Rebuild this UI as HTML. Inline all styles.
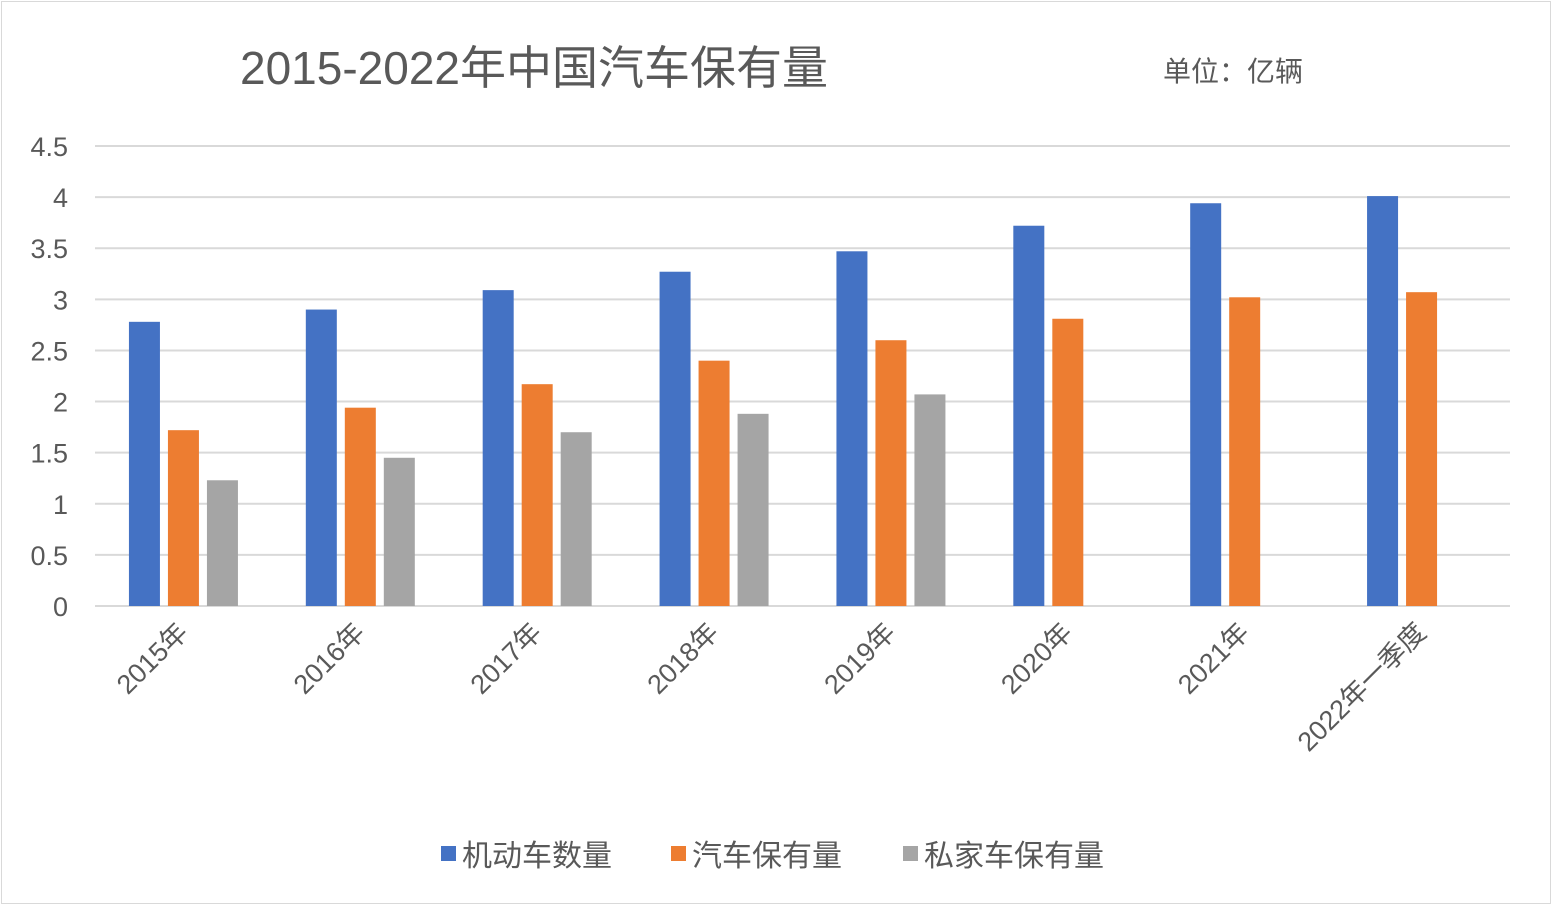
<!DOCTYPE html>
<html><head><meta charset="utf-8">
<style>
html,body{margin:0;padding:0;background:#fff;}
body{width:1554px;height:907px;overflow:hidden;font-family:"Liberation Sans","Noto Sans CJK SC",sans-serif;}
#frame{position:absolute;left:1px;top:1px;width:1550px;height:903px;border:1px solid #d9d9d9;box-sizing:border-box;}
text{font-family:"Liberation Sans","Noto Sans CJK SC",sans-serif;}
</style></head>
<body>
<div id="frame"></div>
<svg id="chart" width="1554" height="907" style="position:absolute;left:0;top:0">
<text x="240" y="84" font-size="46" fill="#595959">2015-2022年中国汽车保有量</text>
<text x="1163" y="81" font-size="28" fill="#595959">单位：亿辆</text>
<g id="grid"></g><g id="bars"></g><g id="xlabels"></g>
<g id="legend">
<rect x="441" y="846" width="15" height="15" fill="#4472c4"/>
<text x="462" y="866" font-size="30" fill="#595959">机动车数量</text>
<rect x="671" y="846" width="15" height="15" fill="#ed7d31"/>
<text x="692" y="866" font-size="30" fill="#595959">汽车保有量</text>
<rect x="903" y="846" width="15" height="15" fill="#a5a5a5"/>
<text x="924" y="866" font-size="30" fill="#595959">私家车保有量</text>
</g>
</svg>
<script>
const categories=["2015年","2016年","2017年","2018年","2019年","2020年","2021年","2022年一季度"];
const motorVehicles=[2.78,2.90,3.09,3.27,3.47,3.72,3.94,4.01];
const cars=[1.72,1.94,2.17,2.40,2.60,2.81,3.02,3.07];
const privateCars=[1.23,1.45,1.70,1.88,2.07,null,null,null];
const yTicks=[0,0.5,1,1.5,2,2.5,3,3.5,4,4.5];
const tickLabels=["0","0.5","1","1.5","2","2.5","3","3.5","4","4.5"];
const NS="http://www.w3.org/2000/svg";
const x0=95,x1=1510,y0=606,yTop=146,yMax=4.5;
const yScale=v=>y0-(v/yMax)*(y0-yTop);
const band=(x1-x0)/categories.length;
const xCenter=i=>x0+band*(i+0.5);
function mk(tag,attrs,parent){const e=document.createElementNS(NS,tag);for(const k in attrs)e.setAttribute(k,attrs[k]);parent.appendChild(e);return e;}
const grid=document.getElementById('grid');
yTicks.forEach((t,i)=>{
  const y=yScale(t);
  const l=mk('line',{x1:x0,x2:x1,y1:y,y2:y,stroke:'#d9d9d9','stroke-width':2},grid);
  
  
  const tx=mk('text',{x:68,y:y+10,'font-size':27,fill:'#595959','text-anchor':'end'},grid);
  tx.textContent=tickLabels[i];
  
  
});
const bars=document.getElementById('bars');
const series=[[motorVehicles,'#4472c4',-39],[cars,'#ed7d31',0],[privateCars,'#a5a5a5',39]];
series.forEach(([vals,col,off],si)=>{
  vals.forEach((v,i)=>{
    if(v==null)return;
    const y=yScale(v);
    const r=mk('rect',{x:xCenter(i)+off-15.5,y:y,width:31,height:y0-y,fill:col},bars);
    
    
  });
});
const xl=document.getElementById('xlabels');
categories.forEach((c,i)=>{
  const cx=xCenter(i)+6,cy=634;
  const t=mk('text',{x:cx,y:cy,'font-size':27,fill:'#595959','text-anchor':'end',transform:`rotate(-45 ${cx} ${cy})`},xl);
  t.textContent=c;
  
  
});
</script>
</body></html>
